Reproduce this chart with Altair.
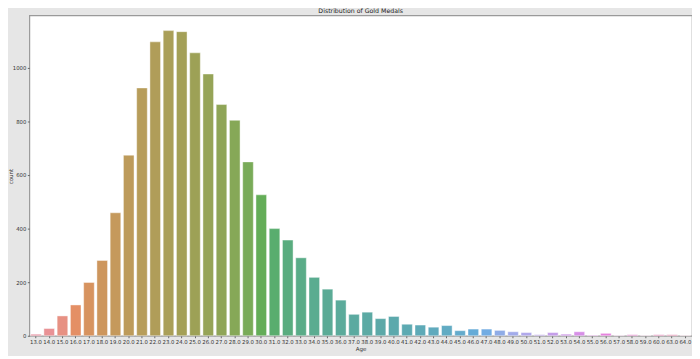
import math
import colorsys
import altair as alt
import pandas as pd

# ---- data ----
ages = list(range(13, 61)) + [63, 64]
age_labels = [f"{a}.0" for a in ages]
counts = [6, 27, 74, 115, 199, 281, 459, 674, 925, 1097,
          1139, 1135, 1056, 977, 863, 804, 649, 526, 400, 357,
          291, 218, 174, 133, 80, 88, 64, 72, 43, 40,
          32, 38, 19, 25, 25, 20, 15, 12, 4, 12,
          6, 15, 2, 9, 1, 4, 1, 4, 4, 1]
y_ticks = [0, 200, 400, 600, 800, 1000]

# ---- seaborn-like husl palette (desaturated 0.75) ----
M = [[3.2406, -1.5372, -0.4986],
     [-0.9689, 1.8758, 0.0415],
     [0.0557, -0.2040, 1.0570]]
REF_U, REF_V = 0.19784, 0.46834


def max_chroma(L, H):
    hrad = math.radians(H)
    sinH, cosH = math.sin(hrad), math.cos(hrad)
    sub1 = (L + 16) ** 3 / 1560896.0
    sub2 = sub1 if sub1 > 0.008856 else L / 903.3
    result = float("inf")
    for m1, m2, m3 in M:
        top = (0.99915 * m1 + 1.05122 * m2 + 1.14460 * m3) * sub2
        rbottom = 0.86330 * m3 - 0.17266 * m2
        lbottom = 0.12949 * m3 - 0.38848 * m1
        bottom = (rbottom * sinH + lbottom * cosH) * sub2
        for t in (0.0, 1.0):
            C = L * (top - 1.05122 * t) / (bottom + 0.17266 * sinH * t)
            if 0.0 < C < result:
                result = C
    return result


def f_inv(t):
    return t ** 3 if t ** 3 > 0.008856 else (116.0 * t - 16.0) / 903.3


def from_linear(c):
    return 12.92 * c if c <= 0.0031308 else 1.055 * c ** (1 / 2.4) - 0.055


def husl_to_rgb(h, s, l):
    C = max_chroma(l, h) / 100.0 * s
    U = math.cos(math.radians(h)) * C
    V = math.sin(math.radians(h)) * C
    Y = f_inv((l + 16.0) / 116.0)
    varU = U / (13.0 * l) + REF_U
    varV = V / (13.0 * l) + REF_V
    X = 0.0 - (9.0 * Y * varU) / ((varU - 4.0) * varV - varU * varV)
    Z = (9.0 * Y - 15.0 * varV * Y - varV * X) / (3.0 * varV)
    rgb = [from_linear(r[0] * X + r[1] * Y + r[2] * Z) for r in M]
    return [min(max(c, 0.0), 1.0) for c in rgb]


def palette(n):
    out = []
    for i in range(n):
        h = ((i / n) + 0.01) % 1 * 359
        r, g, b = husl_to_rgb(h, 0.9 * 99, 0.65 * 99)
        hh, ll, ss = colorsys.rgb_to_hls(r, g, b)
        r, g, b = colorsys.hls_to_rgb(hh, ll, ss * 0.75)
        out.append("#%02x%02x%02x" % tuple(int(round(c * 255)) for c in (r, g, b)))
    return out


colors = palette(len(ages))

df = pd.DataFrame({"Age": age_labels, "count": counts})

chart = (
    alt.Chart(df)
    .mark_bar(stroke="white", strokeWidth=0.6, strokeOpacity=0.7, fillOpacity=0.88)
    .encode(
        x=alt.X(
            "Age:N",
            sort=age_labels,
            scale=alt.Scale(paddingInner=0.2, paddingOuter=0.1),
            axis=alt.Axis(
                title="Age",
                labelAngle=0,
                labelOverlap=False,
                labelFontSize=5.4,
                labelPadding=1.5,
                tickSize=2,
                titleFontSize=5.6,
                titleFontWeight="normal",
                titlePadding=2,
            ),
        ),
        y=alt.Y(
            "count:Q",
            scale=alt.Scale(domain=[0, 1196], nice=False, zero=True),
            axis=alt.Axis(
                title="count",
                values=y_ticks,
                format="d",
                labelFontSize=5.4,
                labelPadding=1.5,
                tickSize=2,
                grid=False,
                titleFontSize=5.6,
                titleFontWeight="normal",
                titleX=-16,
                titleY=162,
            ),
        ),
        color=alt.Color(
            "Age:N",
            sort=age_labels,
            scale=alt.Scale(domain=age_labels, range=colors),
            legend=None,
        ),
    )
    .properties(
        width=668,
        height=323,
        title=alt.TitleParams(
            "Distribution of Gold Medals",
            fontSize=6.3,
            fontWeight="normal",
            font="DejaVu Sans",
            color="#222222",
            offset=1,
        ),
        autosize=alt.AutoSizeParams(type="none"),
        padding={"left": 21.5, "top": 6, "right": 0, "bottom": 19},
        background="#e6e6e6",
    )
    .configure_view(fill="white", stroke="#9a9a9a", strokeWidth=1.2)
    .configure_axis(
        labelFont="DejaVu Sans",
        titleFont="DejaVu Sans",
        labelColor="#333333",
        titleColor="#333333",
        tickColor="#666666",
        domain=False,
    )
)

chart.save("out.html", embed_options={"renderer": "svg", "actions": False})
